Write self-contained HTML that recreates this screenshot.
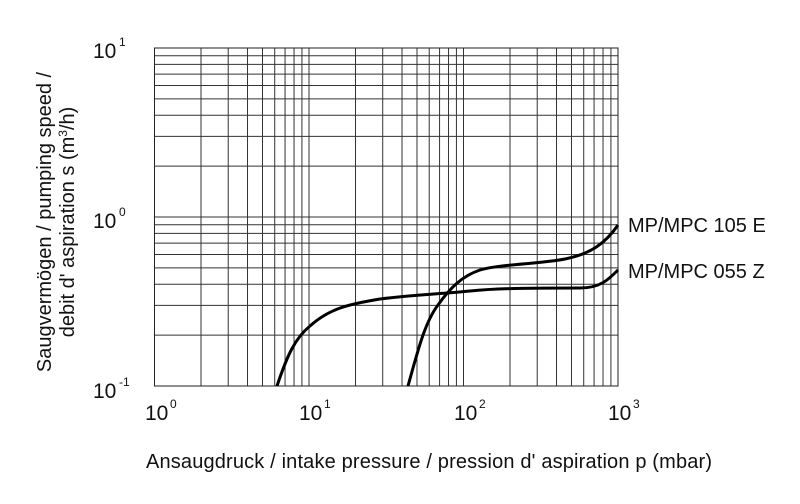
<!DOCTYPE html><html><head><style>body{margin:0;background:#fff}svg{display:block}text{font-family:"Liberation Sans",sans-serif;fill:#111}</style></head><body>
<svg width="800" height="504" xmlns="http://www.w3.org/2000/svg">
<g id="grid" stroke="#333" stroke-width="1" fill="none"></g>
<rect x="154.5" y="48" width="463.5" height="338" fill="none" stroke="#222" stroke-width="1"/>
<path d="M408,386 C418,350 425,322 438,305 C450,288 462,276 480,270 C500,264 540,264 565,259 C590,254 605,244 618,225" stroke="#000" stroke-width="3" fill="none"/>
<path d="M277,386 C287,356 295,338 310,326 C330,308 350,304 380,299 C410,295 440,294 470,291 C500,288 540,288 580,288 C600,288 608,280 618,270" stroke="#000" stroke-width="3" fill="none"/>
<text x="628" y="232" font-size="20">MP/MPC 105 E</text>
<text x="628" y="278" font-size="20">MP/MPC 055 Z</text>
<text x="93" y="58" font-size="21">10</text><text x="119" y="46" font-size="12">1</text>
<text x="93" y="228" font-size="21">10</text><text x="119" y="216" font-size="12">0</text>
<text x="93" y="398" font-size="21">10</text><text x="119" y="386" font-size="12">-1</text>
<text x="145" y="420" font-size="21">10</text><text x="170" y="408" font-size="12">0</text>
<text x="299" y="420" font-size="21">10</text><text x="324" y="408" font-size="12">1</text>
<text x="454" y="420" font-size="21">10</text><text x="479" y="408" font-size="12">2</text>
<text x="608" y="420" font-size="21">10</text><text x="633" y="408" font-size="12">3</text>
<text x="146" y="468" font-size="20" textLength="566">Ansaugdruck / intake pressure / pression d' aspiration p (mbar)</text>
<g transform="translate(51,222) rotate(-90)"><text x="0" y="0" font-size="20" text-anchor="middle">Saugvermögen / pumping speed /</text>
<text x="0" y="23" font-size="20" text-anchor="middle">debit d' aspiration s (m<tspan font-size="12" dy="-7">3</tspan><tspan dy="7">/h)</tspan></text></g>
</svg>
<script>
var g=document.getElementById('grid'),s='';
var x0=154.5,dx=154.5,y0=386,dy=169;
for(var d=0;d<3;d++)for(var k=1;k<=10;k++){var x=x0+dx*(d+Math.log10(k));s+='<line x1="'+x+'" y1="48" x2="'+x+'" y2="386"/>';}
for(var d=0;d<2;d++)for(var k=1;k<=10;k++){var y=y0-dy*(d+Math.log10(k));s+='<line x1="154.5" y1="'+y+'" x2="618" y2="'+y+'"/>';}
g.innerHTML=s;
</script>
</body></html>
